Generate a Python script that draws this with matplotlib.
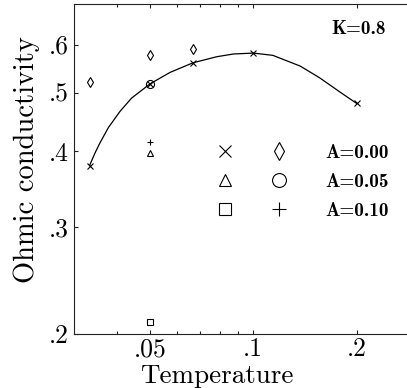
import matplotlib
matplotlib.use("Agg")
import matplotlib.pyplot as plt
from matplotlib.ticker import FixedLocator, FixedFormatter, NullFormatter
from matplotlib.legend_handler import HandlerTuple
from matplotlib.lines import Line2D

# ---- data ----
temps_a000_x = [0.0333, 0.05, 0.0667, 0.1, 0.2]
sigma_a000_x = [0.379, 0.517, 0.560, 0.581, 0.480]

temps_a000_d = [0.0333, 0.05, 0.0667]
sigma_a000_d = [0.520, 0.577, 0.589]

temps_a005_tri = [0.05]
sigma_a005_tri = [0.398]
temps_a005_circ = [0.05]
sigma_a005_circ = [0.517]

temps_a010_sq = [0.05]
sigma_a010_sq = [0.2095]
temps_a010_plus = [0.05]
sigma_a010_plus = [0.415]

# fitted curve
fit_T = [0.0333, 0.0345, 0.0357, 0.0378, 0.0409, 0.0442, 0.050, 0.0572,
         0.0667, 0.0782, 0.0875, 0.100, 0.114, 0.137, 0.156, 0.179, 0.200]
fit_sigma = [0.379, 0.397, 0.413, 0.438, 0.466, 0.490, 0.517, 0.540,
             0.560, 0.573, 0.579, 0.581, 0.576, 0.553, 0.529, 0.501, 0.480]

x_major = [0.05, 0.1, 0.2]
x_major_labels = [".05", ".1", ".2"]
x_minor = [0.04, 0.06, 0.07, 0.08, 0.09]
y_major = [0.2, 0.3, 0.4, 0.5, 0.6]
y_major_labels = [".2", ".3", ".4", ".5", ".6"]
legend_labels = ["A=0.00", "A=0.05", "A=0.10"]

W, H = 407, 388
fig = plt.figure(figsize=(W / 100, H / 100), dpi=100)
ax = fig.add_axes([74 / W, (H - 334) / H, 343 / W, 330 / H])
ax.set_xscale("log")
ax.set_yscale("log")
ax.set_xlim(0.03, 0.3)
ax.set_ylim(0.2, 0.7)

lw = 0.8
ax.plot(fit_T, fit_sigma, color="black", lw=0.9)
mk = dict(ls="none", color="black", mfc="none", mew=0.8)
ax.plot(temps_a000_x, sigma_a000_x, marker="x", ms=5, **mk)
ax.plot(temps_a000_d, sigma_a000_d, marker="d", ms=5.2, **mk)
ax.plot(temps_a005_tri, sigma_a005_tri, marker="^", ms=5, **mk)
ax.plot(temps_a005_circ, sigma_a005_circ, marker="o", ms=5.8, **mk)
ax.plot(temps_a010_sq, sigma_a010_sq, marker="s", ms=4.3, **mk)
ax.plot(temps_a010_plus, sigma_a010_plus, marker="+", ms=5, **mk)

for s in ax.spines.values():
    s.set_linewidth(lw)
    s.set_color("#222222")

ax.xaxis.set_major_locator(FixedLocator(x_major))
ax.xaxis.set_major_formatter(FixedFormatter(x_major_labels))
ax.xaxis.set_minor_locator(FixedLocator(x_minor))
ax.xaxis.set_minor_formatter(NullFormatter())
ax.yaxis.set_major_locator(FixedLocator(y_major))
ax.yaxis.set_major_formatter(FixedFormatter(y_major_labels))
ax.yaxis.set_minor_locator(FixedLocator([]))
ax.yaxis.set_minor_formatter(NullFormatter())

ax.tick_params(which="both", direction="in", top=True, right=True, width=lw,
               color="#222222")
ax.tick_params(which="major", length=3.2)
ax.tick_params(which="minor", length=2.2)
ax.tick_params(axis="x", which="major", pad=2.5)
ax.tick_params(axis="y", which="major", pad=4.0)
for lab in ax.get_xticklabels() + ax.get_yticklabels():
    lab.set_fontfamily("cmr10")
    lab.set_fontsize(18.5)

ax.set_xlabel("Temperature", fontfamily="cmr10", fontsize=19.5)
ax.xaxis.label.set_va("center")
ax.xaxis.set_label_coords((217 - 74) / 343, (334 - 376) / 330)
ax.set_ylabel("Ohmic conductivity", fontfamily="cmr10", fontsize=20.5)
ax.yaxis.label.set_va("center")
ax.yaxis.set_label_coords((27 - 74) / 343, (334 - 160) / 330)

fig.text(359 / W, (H - 29) / H, "K=0.8", fontfamily="cmb10", fontsize=13.8,
         ha="center", va="center")

lmk = dict(ls="none", color="black", mfc="none", mew=0.8)
h_x = Line2D([], [], marker="x", ms=8, **lmk)
h_d = Line2D([], [], marker="d", ms=9.2, **lmk)
h_t = Line2D([], [], marker="^", ms=8.5, **lmk)
h_c = Line2D([], [], marker="o", ms=10, **lmk)
h_s = Line2D([], [], marker="s", ms=8, **lmk)
h_p = Line2D([], [], marker="+", ms=9.4, **lmk)
fs_leg = 13.8
fs_px = fs_leg * 100 / 72
leg = ax.legend(handles=[(h_x, h_d), (h_t, h_c), (h_s, h_p)],
                labels=legend_labels,
                handler_map={tuple: HandlerTuple(ndivide=None, pad=34 / fs_px)},
                loc="upper left",
                bbox_to_anchor=(215 / W, (H - 144) / H),
                bbox_transform=fig.transFigure,
                frameon=False, borderpad=0, borderaxespad=0,
                handlelength=74 / fs_px, handletextpad=36 / fs_px,
                labelspacing=0.57,
                prop={"family": "cmb10", "size": fs_leg})

fig.savefig("out.png", dpi=100)
